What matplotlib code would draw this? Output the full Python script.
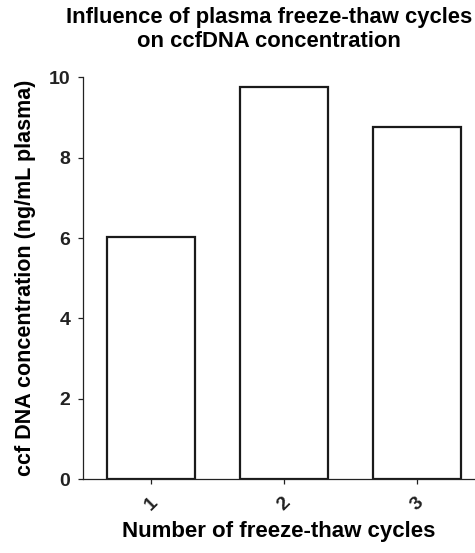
import matplotlib
matplotlib.use("Agg")
import matplotlib.pyplot as plt

plt.rcParams["font.family"] = ["Liberation Sans", "DejaVu Sans"]
plt.rcParams["font.weight"] = "bold"

cycles = ["1", "2", "3"]
positions = [1, 2, 3]
concentration = [6.02, 9.75, 8.77]

fig = plt.figure(figsize=(4.75, 5.53), dpi=100)
ax = fig.add_axes([0.1747, 0.1333, 0.8253, 0.7270])

ax.bar(positions, concentration, width=0.665, facecolor="white", edgecolor="#1a1a1a", linewidth=1.6)

ax.set_xlim(0.487, 3.434)
ax.set_ylim(0, 10)
ax.set_yticks([0, 2, 4, 6, 8, 10])
ax.set_xticks(positions)
ax.set_xticklabels(cycles, rotation=45, ha="center", va="top")
for s in ("top", "right"):
    ax.spines[s].set_visible(False)
for s in ("left", "bottom"):
    ax.spines[s].set_linewidth(0.9)
    ax.spines[s].set_color("#222222")
ax.tick_params(axis="both", direction="out", length=3.6, width=0.9, labelsize=14, colors="#222222")
ax.tick_params(axis="x", pad=7)
ax.tick_params(axis="y", pad=5.5)

ax.set_xlabel("Number of freeze-thaw cycles", fontsize=16, fontweight="bold", labelpad=5)
ax.set_ylabel("ccf DNA concentration (ng/mL plasma)", fontsize=15.5, fontweight="bold", labelpad=9)
fig.text(0.567, 0.988, "Influence of plasma freeze-thaw cycles\non ccfDNA concentration",
         ha="center", va="top", fontsize=15.8, fontweight="bold", linespacing=1.2)

fig.savefig("out.png", dpi=100)
